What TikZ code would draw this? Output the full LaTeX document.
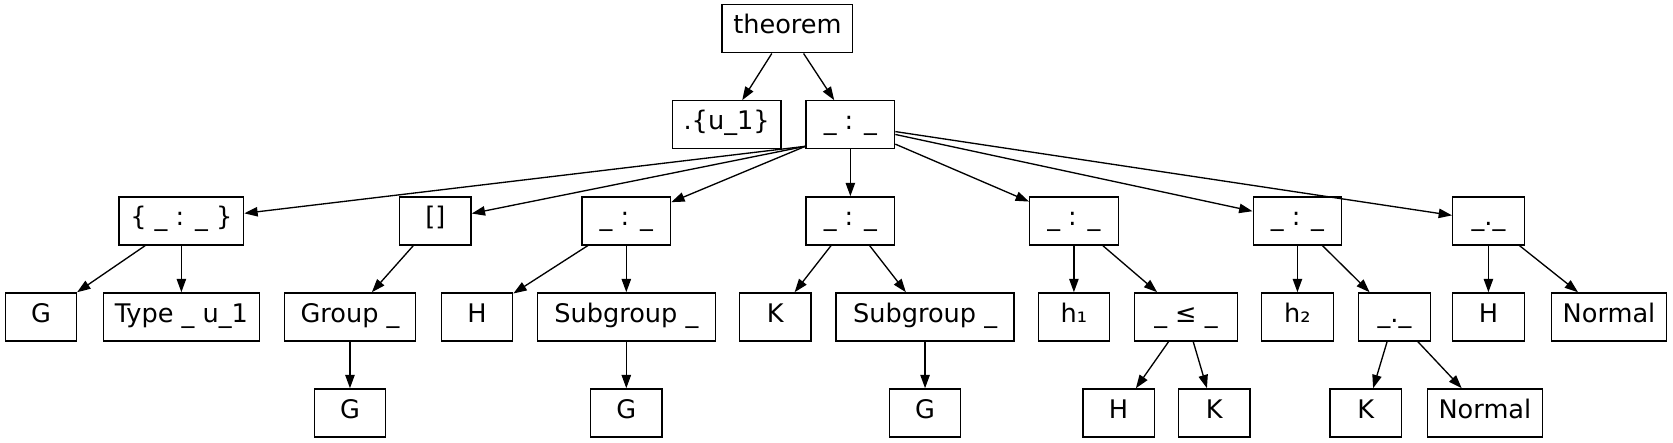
\documentclass[tikz,border=0pt]{standalone}
\usepackage{fontspec}
\setmainfont{DejaVu Sans}
\usetikzlibrary{arrows.meta}
\begin{document}
\begin{tikzpicture}[x=0.5pt, y=-0.5pt, every node/.style={font=\fontsize{12}{14}\selectfont},
  box/.style={draw, line width=0.625pt, minimum width=33.5pt, minimum height=22.5pt, inner xsep=5.25pt, text height=0.75em, text depth=0.27em},
  edge/.style={line width=0.625pt, -{Triangle[length=6.25pt, width=4.4pt]}}]
\useasboundingbox (0,0) rectangle (1568,415);
\node[box] (thm) at (738,27) {theorem};
\node[box] (univ) at (681,117) {.\{u\_1\}};
\node[box, minimum width=41.5pt] (typed) at (797,117) {\_ : \_};
\node[box] (sinst) at (170,207) {\{ \_ : \_ \}};
\node[box] (emp) at (408,207) {[]};
\node[box, minimum width=41.5pt] (hsub) at (587,207) {\_ : \_};
\node[box, minimum width=41.5pt] (ksub) at (797,207) {\_ : \_};
\node[box, minimum width=41.5pt] (hmem) at (1006.5,207) {\_ : \_};
\node[box, minimum width=41.5pt] (kmem) at (1216,207) {\_ : \_};
\node[box] (norm) at (1395,207) {\_.\_};
\node[box] (g1) at (38.5,297) {G};
\node[box] (tyu) at (170,297) {Type \_ u\_1};
\node[box, minimum width=61.5pt] (grp) at (328,297) {Group \_};
\node[box] (h1) at (447,297) {H};
\node[box, minimum width=83.5pt] (subh) at (587,297) {Subgroup \_};
\node[box] (k1) at (726.7,297) {K};
\node[box, minimum width=83.5pt] (subk) at (867,297) {Subgroup \_};
\node[box] (hh) at (1006.5,297) {h₁};
\node[box, minimum width=48.5pt] (le) at (1111.5,297) {\_ ≤ \_};
\node[box] (hk) at (1216,297) {h₂};
\node[box] (dot) at (1307,297) {\_.\_};
\node[box] (h2) at (1395,297) {H};
\node[box] (nrm1) at (1508,297) {Normal};
\node[box] (g2) at (328,387) {G};
\node[box] (g3) at (587,387) {G};
\node[box] (g4) at (867,387) {G};
\node[box] (h3) at (1048.4,387) {H};
\node[box] (k2) at (1138,387) {K};
\node[box] (k3) at (1280,387) {K};
\node[box] (nrm2) at (1391.7,387) {Normal};
\draw[edge] (thm) -- (univ);
\draw[edge] (thm) -- (typed);
\draw[edge] ([yshift=1.5pt]typed.south west) -- (sinst);
\draw[edge] ([yshift=1.5pt]typed.south west) -- (emp);
\draw[edge] ([yshift=1.5pt]typed.south west) -- (hsub);
\draw[edge] (typed) -- (ksub);
\draw[edge] (typed) -- (hmem);
\draw[edge] (typed) -- (kmem);
\draw[edge] (typed) -- (norm);
\draw[edge] (sinst) -- (g1);
\draw[edge] (sinst) -- (tyu);
\draw[edge] (emp) -- (grp);
\draw[edge] (hsub) -- (h1);
\draw[edge] (hsub) -- (subh);
\draw[edge] (ksub) -- (k1);
\draw[edge] (ksub) -- (subk);
\draw[edge] (hmem) -- (hh);
\draw[edge] (hmem) -- (le);
\draw[edge] (kmem) -- (hk);
\draw[edge] (kmem) -- (dot);
\draw[edge] (norm) -- (h2);
\draw[edge] (norm) -- (nrm1);
\draw[edge] (grp) -- (g2);
\draw[edge] (subh) -- (g3);
\draw[edge] (subk) -- (g4);
\draw[edge] (le) -- (h3);
\draw[edge] (le) -- (k2);
\draw[edge] (dot) -- (k3);
\draw[edge] (dot) -- (nrm2);
\end{tikzpicture}
\end{document}
